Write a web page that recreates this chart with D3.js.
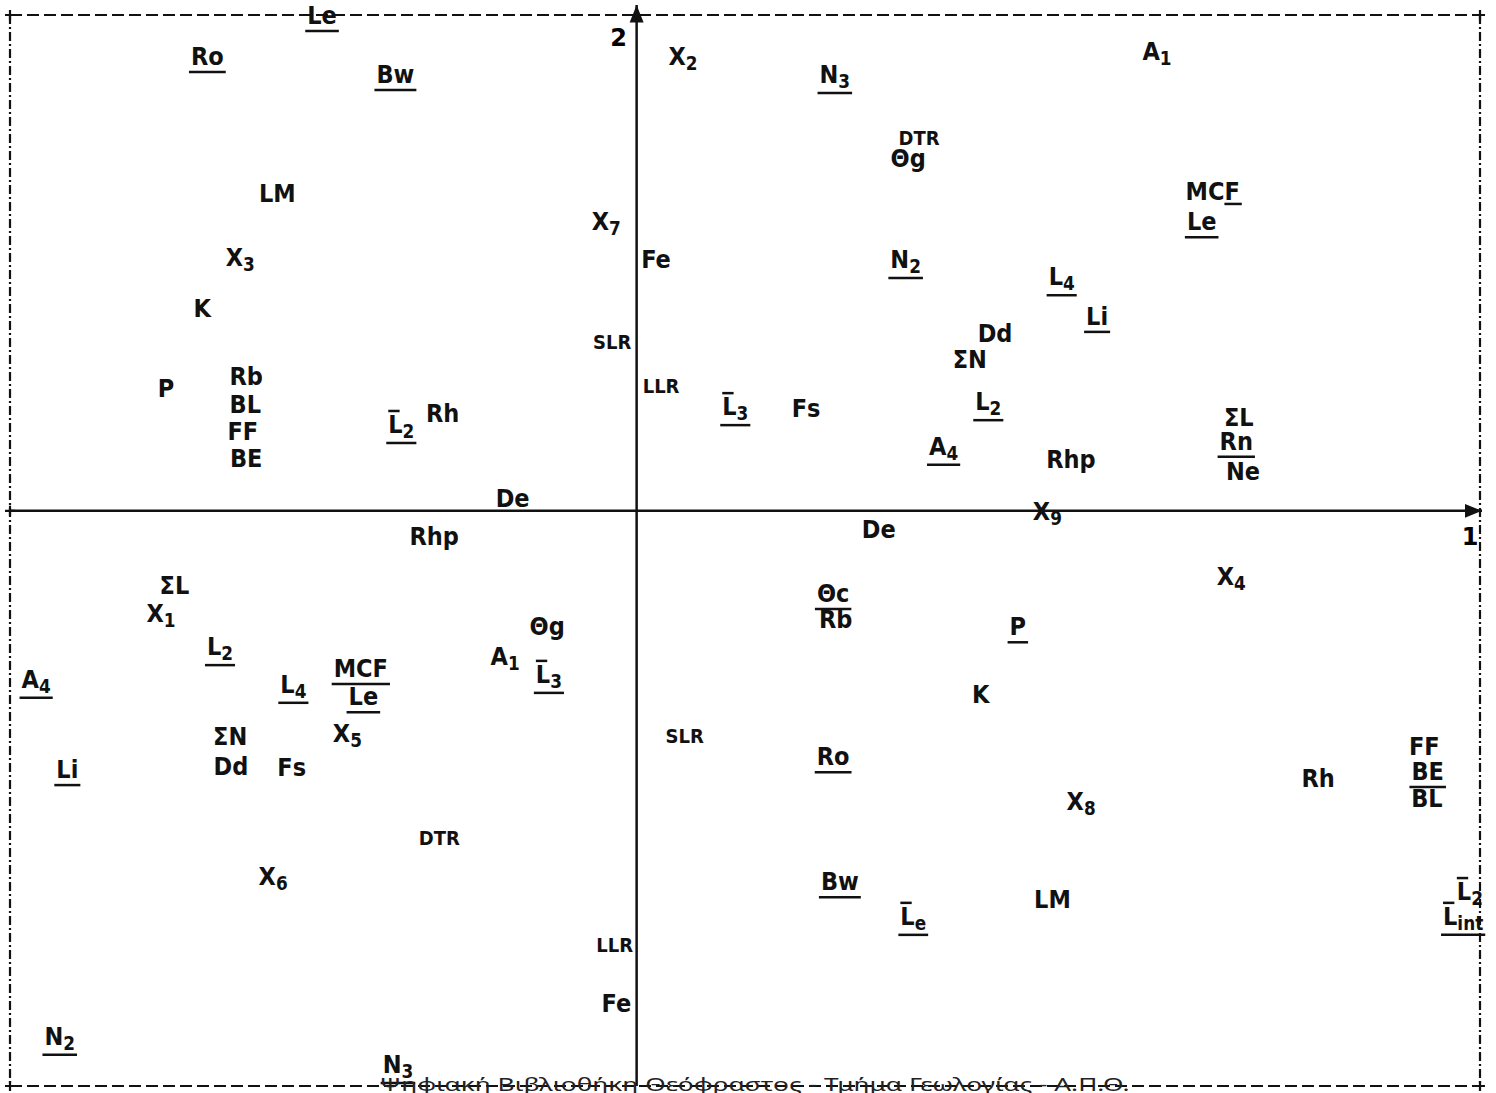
<!DOCTYPE html>
<html>
<head>
<meta charset="utf-8">
<script src="https://cdn.jsdelivr.net/npm/d3@7/dist/d3.min.js"></script>
<style>
  body { margin: 0; background: #fff; }
  .lab text { font-family: "Liberation Sans Narrow", "DejaVu Sans Condensed", "Liberation Sans", sans-serif; font-weight: bold; fill: #111; }
</style>
</head>
<body>
<div id="chart"></div>
<script>
// Variable labels ("_" starts a subscript) with loadings on factor 1 (x) and factor 2 (y)
const labels = [
  "Le", "Ro", "Bw", "LM", "X_3", "K", "P", "Rb", "BL", "FF", "BE", "L_2", "Rh", "De",
  "Rhp", "ΣL", "X_1", "L_2", "A_4", "L_4", "MCF", "Le", "X_5", "ΣN", "Dd", "Fs", "Li",
  "DTR", "X_6", "N_2", "N_3", "A_1", "Θg", "L_3", "LLR", "Fe",
  "X_2", "X_7", "Fe", "N_3", "DTR", "Θg", "N_2", "A_1", "MCF", "Le", "L_4", "Li", "Dd",
  "ΣN", "L_2", "A_4", "L_3", "Fs", "SLR", "LLR", "De", "Rhp", "ΣL", "Rn", "Ne", "X_9",
  "X_4", "P", "Θc", "Rb", "K", "SLR", "Ro", "Rh", "FF", "BE", "BL", "X_8", "Bw", "L_e",
  "LM", "L_2", "L_int"
];
const f1 = [
  -0.373, -0.509, -0.286, -0.426, -0.470, -0.515, -0.558, -0.463, -0.464, -0.467, -0.463, -0.279, -0.230, -0.147,
  -0.240, -0.548, -0.564, -0.494, -0.712, -0.407, -0.327, -0.324, -0.343, -0.482, -0.481, -0.409, -0.675,
  -0.234, -0.431, -0.684, -0.283, -0.156, -0.106, -0.104, -0.026, -0.024,
  0.055, -0.036, 0.023, 0.235, 0.335, 0.322, 0.319, 0.617, 0.683, 0.670, 0.504, 0.546, 0.425,
  0.395, 0.417, 0.364, 0.117, 0.201, -0.029, 0.029, 0.287, 0.515, 0.714, 0.711, 0.719, 0.487,
  0.705, 0.452, 0.233, 0.236, 0.408, 0.057, 0.233, 0.808, 0.934, 0.938, 0.937, 0.527, 0.241, 0.328,
  0.493, 0.988, 0.980
];
const f2 = [
  0.982, 0.899, 0.863, 0.623, 0.494, 0.391, 0.230, 0.254, 0.197, 0.143, 0.088, 0.157, 0.179, 0.008,
  -0.069, -0.168, -0.224, -0.291, -0.357, -0.367, -0.335, -0.392, -0.466, -0.472, -0.533, -0.535, -0.539,
  -0.674, -0.755, -1.077, -1.134, -0.311, -0.251, -0.347, -0.890, -1.011,
  0.899, 0.566, 0.490, 0.863, 0.738, 0.693, 0.490, 0.909, 0.627, 0.566, 0.455, 0.375, 0.340,
  0.288, 0.203, 0.113, 0.193, 0.189, 0.326, 0.238, -0.055, 0.086, 0.172, 0.123, 0.062, -0.019,
  -0.150, -0.251, -0.184, -0.236, -0.388, -0.468, -0.513, -0.557, -0.493, -0.543, -0.597, -0.603, -0.765, -0.835,
  -0.801, -0.785, -0.835
];
// u = underlined, o = bar over the L, ul = only the last letter underlined
const marks = [
  "u", "u", "u", "", "", "", "", "", "", "", "", "uo", "", "",
  "", "", "", "u", "u", "u", "u", "u", "", "", "", "", "u",
  "", "", "u", "u", "", "", "uo", "", "",
  "", "", "", "u", "", "", "u", "", "ul", "u", "u", "u", "",
  "", "u", "u", "uo", "", "", "", "", "", "", "u", "", "",
  "", "u", "u", "", "", "", "u", "", "", "u", "", "", "u", "uo",
  "", "o", "uo"
];
const smallLabels = ["SLR", "LLR", "DTR"];
const axisNames = ["1", "2"];
const footer = "Ψηφιακή Βιβλιοθήκη Θεόφραστος - Τμήμα Γεωλογίας - Α.Π.Θ.";

const W = 1496, H = 1093;
const svg = d3.select("#chart").append("svg")
    .attr("width", W)
    .attr("height", H);

const x = d3.scaleLinear().domain([-0.743, 1]).range([10, 1480]);
const y = d3.scaleLinear().domain([-1.16, 1]).range([1086, 15]);

const [x0, x1] = x.range();
const [yb, yt] = y.range();

// frame: dashed top/bottom, dash-dot sides
const frame = svg.append("g").attr("stroke", "#111").attr("stroke-width", 2.2).attr("fill", "none");
frame.append("line").attr("x1", x0).attr("x2", x1).attr("y1", yt).attr("y2", yt).attr("stroke-dasharray", "12,5");
frame.append("line").attr("x1", x0).attr("x2", x1).attr("y1", yb).attr("y2", yb).attr("stroke-dasharray", "12,5");
frame.append("line").attr("x1", x0).attr("x2", x0).attr("y1", yt).attr("y2", yb).attr("stroke-dasharray", "9,3,2,3");
frame.append("line").attr("x1", x1).attr("x2", x1).attr("y1", yt).attr("y2", yb).attr("stroke-dasharray", "9,3,2,3");
[[x0, yt], [x1, yt], [x0, yb], [x1, yb], [x0, y(0)]].forEach(([cx, cy]) => {
  frame.append("path").attr("d", `M${cx - 5},${cy}H${cx + 5}M${cx},${cy - 5}V${cy + 5}`);
});

// axes with arrowheads
svg.append("defs").append("marker")
    .attr("id", "arrow")
    .attr("viewBox", "0 0 10 10")
    .attr("refX", 10).attr("refY", 5)
    .attr("markerWidth", 7).attr("markerHeight", 7)
    .attr("markerUnits", "strokeWidth")
    .attr("orient", "auto")
  .append("path").attr("d", "M0,1L10,5L0,9Z").attr("fill", "#111");

svg.append("line")
    .attr("x1", x0).attr("x2", x(1) + 2)
    .attr("y1", y(0)).attr("y2", y(0))
    .attr("stroke", "#111").attr("stroke-width", 2.5)
    .attr("marker-end", "url(#arrow)");
svg.append("line")
    .attr("x1", x(0)).attr("x2", x(0))
    .attr("y1", yb).attr("y2", y(1) - 10)
    .attr("stroke", "#111").attr("stroke-width", 2.5)
    .attr("marker-end", "url(#arrow)");

svg.append("text").attr("x", x(1) - 10).attr("y", y(0) + 34)
    .attr("text-anchor", "middle").attr("font-family", "DejaVu Sans").attr("font-weight", "bold")
    .attr("font-size", 24).text(axisNames[0]);
svg.append("text").attr("x", x(0) - 18).attr("y", y(1) + 31)
    .attr("text-anchor", "middle").attr("font-family", "DejaVu Sans").attr("font-weight", "bold")
    .attr("font-size", 24).text(axisNames[1]);

// variable labels
const lab = svg.append("g").attr("class", "lab");
d3.range(labels.length).forEach(i => {
  const parts = labels[i].split("_");
  const fs = smallLabels.includes(parts[0]) ? 20 : 25;
  const px = x(f1[i]), py = y(f2[i]);
  const t = lab.append("text")
      .attr("x", px).attr("y", py)
      .attr("text-anchor", "middle")
      .attr("font-size", fs);
  t.append("tspan").text(parts[0]);
  if (parts[1]) t.append("tspan").attr("font-size", fs * 0.75).attr("dy", fs * 0.2).text(parts[1]);

  const node = t.node();
  const box = node.getBBox();
  const m = marks[i];
  if (m.includes("u") && m !== "ul") {
    lab.append("line")
        .attr("x1", box.x - 2).attr("x2", box.x + box.width + 2)
        .attr("y1", box.y + box.height + 1).attr("y2", box.y + box.height + 1)
        .attr("stroke", "#111").attr("stroke-width", 2.5);
  }
  if (m === "ul") {
    const n = parts[0].length;
    const a = node.getStartPositionOfChar(n - 1).x, b = node.getEndPositionOfChar(n - 1).x;
    lab.append("line")
        .attr("x1", a).attr("x2", b + 2)
        .attr("y1", py + 4).attr("y2", py + 4)
        .attr("stroke", "#111").attr("stroke-width", 2.5);
  }
  if (m.includes("o")) {
    const a = node.getStartPositionOfChar(0).x, b = node.getEndPositionOfChar(0).x;
    lab.append("line")
        .attr("x1", a).attr("x2", b - 3)
        .attr("y1", py - fs * 0.72 - 4).attr("y2", py - fs * 0.72 - 4)
        .attr("stroke", "#111").attr("stroke-width", 2.5);
  }
});

// library stamp along the bottom edge
svg.append("text")
    .attr("x", x(0) + 118).attr("y", yb + 5)
    .attr("text-anchor", "middle")
    .attr("font-family", "Noto Sans")
    .attr("font-size", 18)
    .attr("fill", "#222")
    .attr("textLength", 750).attr("lengthAdjust", "spacingAndGlyphs")
    .text(footer);
</script>
</body>
</html>
